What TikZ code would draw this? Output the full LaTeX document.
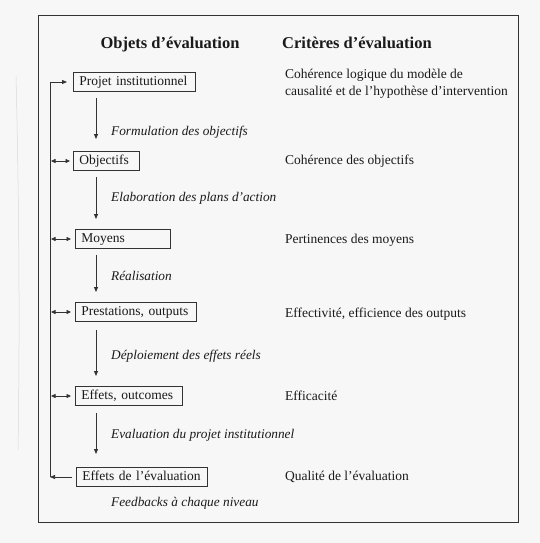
\documentclass[tikz,border=0pt]{standalone}
\usepackage{fontspec}
\setmainfont{Liberation Serif}
\usetikzlibrary{arrows.meta,calc}
\definecolor{ink}{HTML}{1A1A1A}
\definecolor{linec}{HTML}{333333}
\definecolor{paper}{HTML}{F7F7F7}
\begin{document}
\begin{tikzpicture}[x=1pt,y=-1pt,
  box/.style={draw=linec, line width=0.9pt, anchor=west, minimum height=19pt, inner xsep=6pt, inner ysep=0pt, align=left, text height=9.5pt, text depth=3pt, font=\fontsize{13.5}{16}\selectfont, text=ink},
  crit/.style={anchor=base west, inner sep=0pt, font=\fontsize{13.5}{17}\selectfont, text=ink, align=left},
  lab/.style={anchor=base west, inner sep=0pt, font=\fontsize{13.3}{16}\selectfont\itshape, text=ink},
  ttl/.style={inner sep=0pt, font=\fontsize{16.5}{20}\selectfont\bfseries, text=ink},
  conn/.style={draw=linec, line width=0.75pt, -{Triangle[length=5pt,width=4pt]}},
  dconn/.style={draw=linec, line width=0.75pt, {Triangle[length=4.5pt,width=4pt]}-{Triangle[length=4.5pt,width=4pt]}},
  plain/.style={draw=linec, line width=0.75pt},
]
\fill[paper] (0,0) rectangle (540,543);
\useasboundingbox (0,0) rectangle (540,543);
% faint page edge
\draw[gray!30, line width=0.5pt] (16,76) .. controls (19,200) and (20,330) .. (18,450);
% frame
\draw[draw=linec, line width=1pt] (38,16) rectangle (518,522);
% titles
\node[ttl, anchor=base] (t1) at (170,48.5) {Objets d’évaluation};
\node[ttl, anchor=base west] (t2) at (282,48.5) {Critères d’évaluation};
% boxes
\node[box, text width=110pt] (projet) at (73,82) {Projet institutionnel};
\node[box, text width=54pt] (objectifs) at (73,161) {Objectifs};
\node[box, text width=83pt] (moyens) at (75,239) {Moyens};
\node[box, text width=109pt] (prest) at (75,312) {Prestations, outputs};
\node[box, text width=95pt] (effets) at (75,396) {Effets, outcomes};
\node[box, text width=119pt] (effeval) at (76,477) {Effets de l’évaluation};
% labels
\node[lab] (l1) at (111,135.5) {Formulation des objectifs};
\node[lab] (l2) at (111,201.5) {Elaboration des plans d’action};
\node[lab] (l3) at (111,280.5) {Réalisation};
\node[lab] (l4) at (111,359) {Déploiement des effets réels};
\node[lab] (l5) at (111,438.5) {Evaluation du projet institutionnel};
\node[lab] (l6) at (111,506) {Feedbacks à chaque niveau};
% criteria
\node[crit, anchor=west] (c1) at (285,84) {Cohérence logique du modèle de\\causalité et de l’hypothèse d’intervention};
\node[crit] (c2) at (285,164.5) {Cohérence des objectifs};
\node[crit] (c3) at (285,243.5) {Pertinences des moyens};
\node[crit] (c4) at (285,317) {Effectivité, efficience des outputs};
\node[crit] (c5) at (285,400) {Efficacité};
\node[crit] (c6) at (285,480.5) {Qualité de l’évaluation};
% vertical flow
\coordinate (ax) at (96,0);
\draw[conn] ($(projet.south -| ax)+(0,6)$) -- ($(objectifs.north -| ax)+(0,-12)$);
\draw[conn] ($(objectifs.south -| ax)+(0,6)$) -- ($(moyens.north -| ax)+(0,-10)$);
\draw[conn] ($(moyens.south -| ax)+(0,6)$) -- ($(prest.north -| ax)+(0,-10)$);
\draw[conn] ($(prest.south -| ax)+(0,8)$) -- ($(effets.north -| ax)+(0,-10)$);
\draw[conn] ($(effets.south -| ax)+(0,7)$) -- ($(effeval.north -| ax)+(0,-13)$);
% feedback loop
\coordinate (fbx) at (50,0);
\draw[conn] ($(effeval.west)+(-4,0)$) -- (effeval.west -| fbx);
\draw[plain] (effeval.west -| fbx) -- (projet.west -| fbx);
\draw[conn] (projet.west -| fbx) -- ($(projet.west)+(-6,0)$);
\draw[dconn] ($(objectifs.west -| fbx)+(1,0)$) -- ($(objectifs.west)+(-3,0)$);
\draw[dconn] ($(moyens.west -| fbx)+(1,0)$) -- ($(moyens.west)+(-4,0)$);
\draw[dconn] ($(prest.west -| fbx)+(1,0)$) -- ($(prest.west)+(-4,0)$);
\draw[dconn] ($(effets.west -| fbx)+(1,0)$) -- ($(effets.west)+(-4,0)$);
\end{tikzpicture}
\end{document}
